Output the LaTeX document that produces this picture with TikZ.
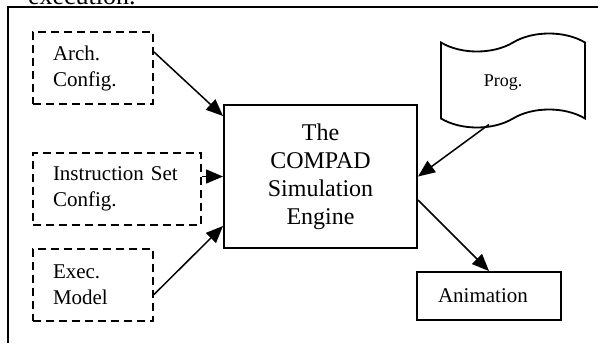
\documentclass[tikz,border=0pt]{standalone}
\usepackage{fontspec}
\setmainfont{Liberation Serif}
\usetikzlibrary{positioning,shapes.symbols,arrows.meta,calc}

\begin{document}
\begin{tikzpicture}[
		      x=0.5pt, y=-0.5pt,
		      every node/.style={font=\fontsize{10.5}{13}\selectfont},
		      conn/.style={draw, -{Triangle[length=8.5pt,width=7pt]}, line width=0.75pt},
		      inbox/.style={
				      draw, dash pattern=on 4pt off 2.5pt,
				      line width=1pt,
				      align=left,
				      text width=40pt,
				      inner xsep=10pt,
				      minimum height=36pt
			      },
		      enginebox/.style={
				      draw, line width=1pt,
				      align=center,
				      minimum width=96.5pt,
				      minimum height=71.5pt,
				      font=\fontsize{12}{14}\selectfont
			      },
		      outbox/.style={
				      draw, line width=1pt,
				      align=left,
				      text width=51pt,
				      inner xsep=10.5pt,
				      minimum height=24pt
			      }
	      ]
	      \clip (0,0) rectangle (603,343);
	      \node[anchor=base west, font=\fontsize{13}{15}\selectfont] (caption) at (21,4) {execution.};
	      \draw[line width=1pt] (598,7) -- (8,7) -- (8,343);

	      % inputs
	      \node[inbox] (arch) at (93,68) {Arch.\\Config.};
	      \node[inbox, text width=64pt] (instr) at (117,188.5) {Instruction Set\\Config.};
	      \node[inbox] (exec) at (93,284.5) {Exec.\\Model};

	      \node[enginebox] (engine) at (320.5,176.5) {The\\COMPAD\\Simulation\\Engine};

	      \node[tape, draw, line width=0.9pt, minimum width=72pt, minimum height=47pt,
		      tape bend height=9pt, text depth=0pt, font=\fontsize{9}{11}\selectfont] (prog) at (513,80.5) {\hspace*{-10pt}Prog.};

	      \node[outbox] (anim) at (489,296) {Animation};

	      % connectors
	      \draw[conn] ([yshift=8pt]arch.east) -- ([yshift=-6pt]engine.north west);
	      \draw[conn] (instr.east |- engine.west) -- (engine.west);
	      \draw[conn] ([yshift=-5pt]exec.east) -- ([yshift=11.5pt]engine.south west);
	      \draw[conn] ([xshift=-12pt,yshift=-2.5pt]prog.south) -- (engine.east);
	      \draw[conn] ([yshift=-11.75pt]engine.east) -- (anim.north);
\end{tikzpicture}
\end{document}
